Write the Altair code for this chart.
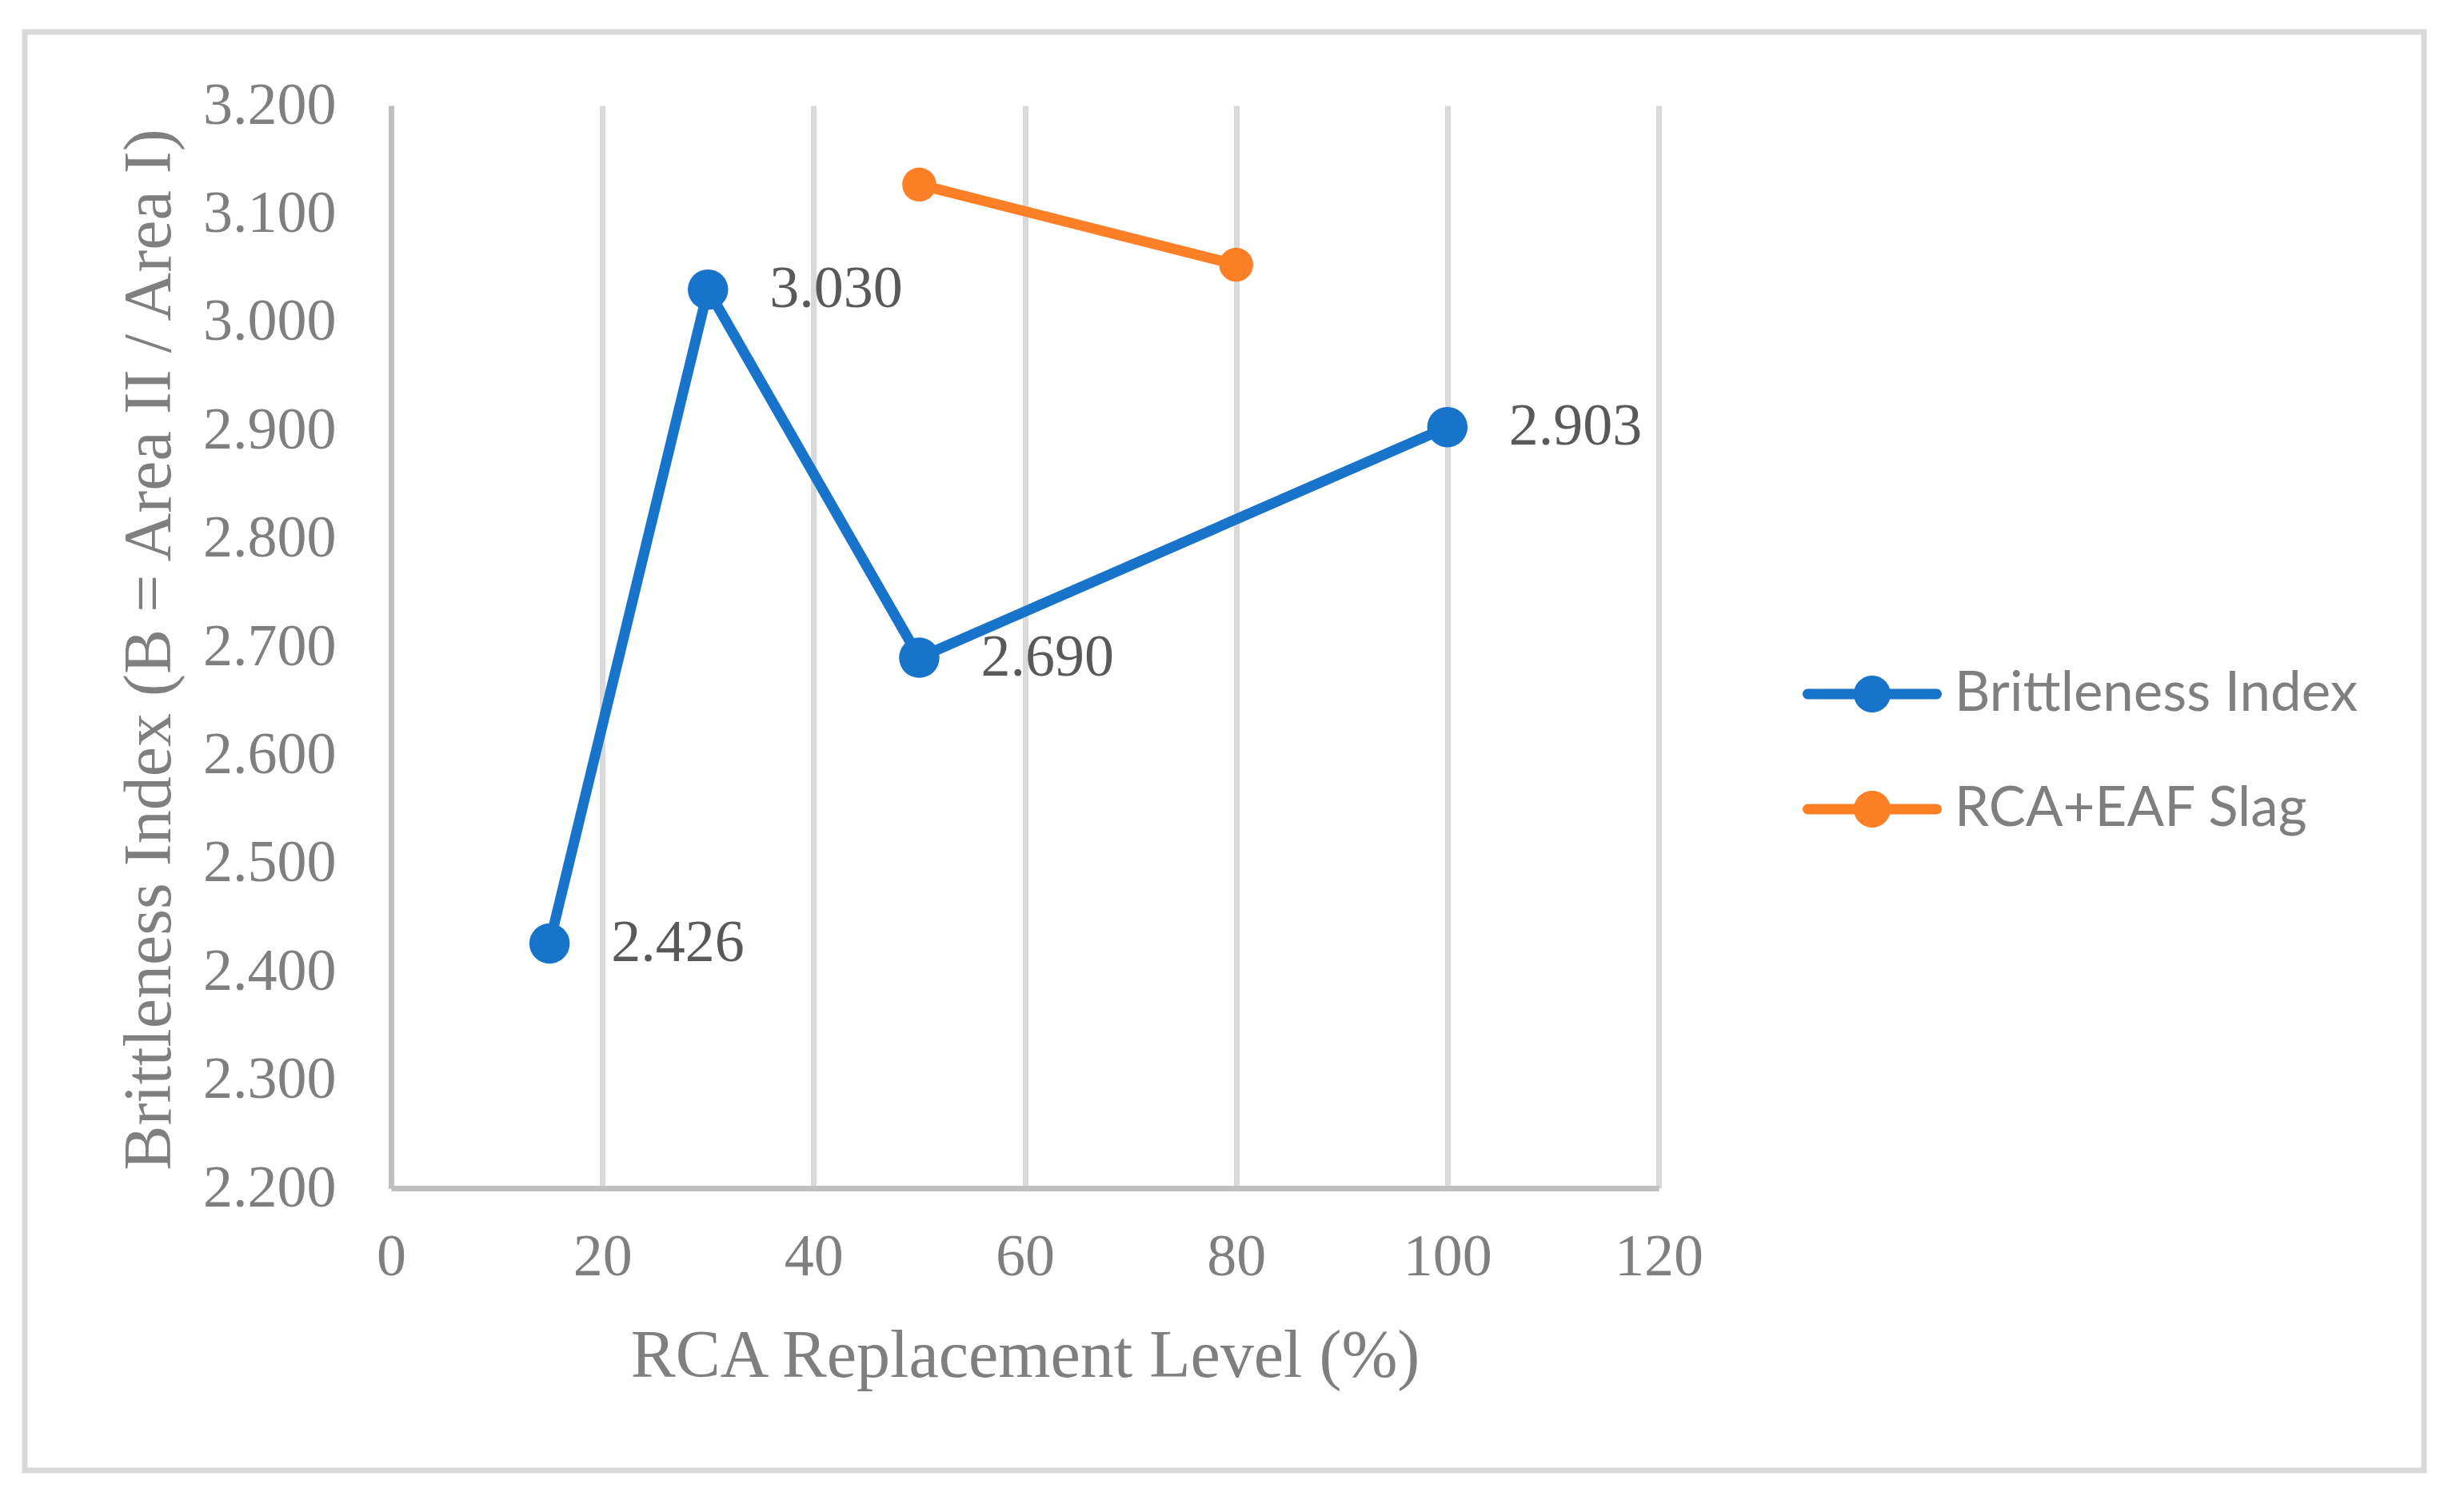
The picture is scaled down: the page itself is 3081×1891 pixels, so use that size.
import altair as alt
import pandas as pd

# ---- data ----
series_names = ["Brittleness Index", "RCA+EAF Slag"]
series_colors = ["#1874CB", "#FD7F26"]

bi_x = [15, 30, 50, 100]
bi_y = [2.426, 3.030, 2.690, 2.903]

slag_x = [50, 80]
slag_y = [3.127, 3.053]

x_ticks = [0, 20, 40, 60, 80, 100, 120]
y_ticks = [2.2, 2.3, 2.4, 2.5, 2.6, 2.7, 2.8, 2.9, 3.0, 3.1, 3.2]

x_title = "RCA Replacement Level (%)"
y_title = "Brittleness Index (B = Area II / Area I)"

df_bi = pd.DataFrame({"series": series_names[0], "x": bi_x, "y": bi_y})
df_slag = pd.DataFrame({"series": series_names[1], "x": slag_x, "y": slag_y})

SERIF = "Liberation Serif"
GRAY = "#7f7f7f"

xs = alt.Scale(domain=[0, 120], nice=False, zero=False)
ys = alt.Scale(domain=[2.2, 3.2], nice=False, zero=False)

x_axis = alt.Axis(
    values=x_ticks, grid=True, gridColor="#d9d9d9", gridWidth=7,
    domainColor="#bfbfbf", domainWidth=7, ticks=False, tickSize=0,
    labelFont=SERIF, labelFontSize=74, labelColor=GRAY, labelPadding=86,
    labelBaseline="middle", labelFlush=False, labelOverlap=False,
    title=x_title, titleFont=SERIF, titleFontSize=84, titleColor=GRAY,
    titleFontWeight="normal", titleY=235, titleBaseline="alphabetic",
)
y_axis = alt.Axis(
    values=y_ticks, format=".3f", grid=False,
    domainColor="#bfbfbf", domainWidth=7, ticks=False, tickSize=0,
    labelFont=SERIF, labelFontSize=74, labelColor=GRAY, labelPadding=69,
    labelAlign="right", labelBaseline="middle", labelFlush=False, labelOverlap=False,
    title=y_title, titleFont=SERIF, titleFontSize=84, titleColor=GRAY,
    titleFontWeight="normal", titleAngle=270, titleX=-277, titleY=680,
    titleBaseline="alphabetic", titleAlign="center",
)

color_scale = alt.Scale(domain=series_names, range=series_colors)

legend_path = (
    "M -1.75 -0.141 L 1.75 -0.141 A 0.141 0.141 0 0 1 1.75 0.141 "
    "L -1.75 0.141 A 0.141 0.141 0 0 1 -1.75 -0.141 Z "
    "M 0.5 0 A 0.5 0.5 0 1 1 -0.5 0 A 0.5 0.5 0 1 1 0.5 0 Z"
)

legend = alt.Legend(
    title=None, orient="none", legendX=1806, legendY=690,
    symbolType=legend_path, symbolSize=8464, symbolStrokeWidth=0,
    labelFont="Lato", labelFontSize=69, labelColor=GRAY,
    labelOffset=57, rowPadding=63, padding=0, labelBaseline="middle",
    labelLimit=2000,
)

border = alt.Chart(pd.DataFrame({"a": [0]})).mark_rect(
    fillOpacity=0, stroke="#d9d9d9", strokeWidth=7
).encode(
    x=alt.value(-458), x2=alt.value(2542), y=alt.value(-92), y2=alt.value(1707)
)


def line_layer(d, col, with_axes):
    enc_x = alt.X("x:Q", scale=xs, axis=x_axis) if with_axes else alt.X("x:Q", scale=xs)
    enc_y = alt.Y("y:Q", scale=ys, axis=y_axis) if with_axes else alt.Y("y:Q", scale=ys)
    return alt.Chart(d).mark_line(
        strokeWidth=13, strokeCap="round", strokeJoin="round", color=col
    ).encode(x=enc_x, y=enc_y, order="x:Q")


def point_layer(d, size):
    return alt.Chart(d).mark_circle(opacity=1, size=size).encode(
        x=alt.X("x:Q", scale=xs),
        y=alt.Y("y:Q", scale=ys),
        color=alt.Color("series:N", scale=color_scale, legend=legend),
    )


line_bi = line_layer(df_bi, series_colors[0], True)
line_slag = line_layer(df_slag, series_colors[1], False)
pts_bi = point_layer(df_bi, 2550)
pts_slag = point_layer(df_slag, 1810)

labels = alt.Chart(df_bi).mark_text(
    align="left", baseline="middle", dx=77, font=SERIF, fontSize=74, color="#595959"
).encode(
    x=alt.X("x:Q", scale=xs),
    y=alt.Y("y:Q", scale=ys),
    text=alt.Text("y:Q", format=".3f"),
)

chart = alt.layer(border, line_bi, line_slag, pts_bi, pts_slag, labels).properties(
    width=1585, height=1354,
    autosize=alt.AutoSizeParams(type="none"),
    padding={"left": 481, "top": 124, "right": 999, "bottom": 382},
    background="white",
).configure_view(stroke=None)

chart.save("out.html", embed_options={"renderer": "svg", "actions": False})
